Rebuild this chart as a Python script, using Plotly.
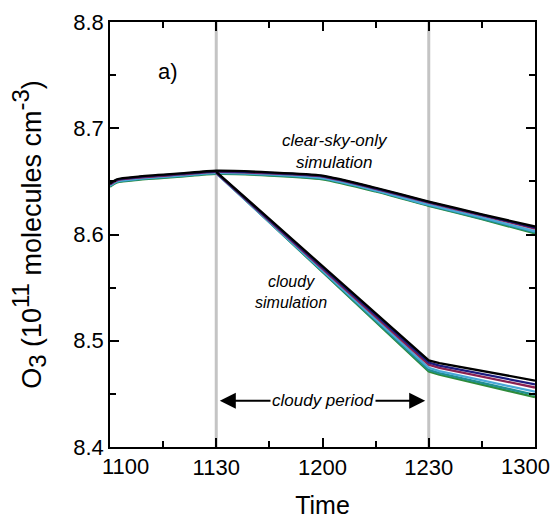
import plotly.graph_objects as go

# Time axis in minutes after 11:00, labelled as HHMM
clear_minutes = [0, 2, 8, 20, 30, 45, 60, 75, 90, 105, 120]
cloudy_minutes = [30, 90, 93, 120]
tick_minutes = [0, 30, 60, 90, 120]
tick_labels = ["1100", "1130", "1200", "1230", "1300"]

run_colors = ["#2e8b3a", "#1f8f8f", "#4aa8d8", "#8b2252", "#1c1c80", "#000000"]

# O3 (1e11 molecules cm^-3) for each model run, clear-sky-only simulation
clear_sky = [
    [8.6450, 8.6490, 8.6515, 8.6545, 8.6570, 8.6555, 8.6520, 8.6405, 8.6270, 8.6145, 8.6010],
    [8.6455, 8.6495, 8.6520, 8.6550, 8.6575, 8.6560, 8.6525, 8.6410, 8.6275, 8.6150, 8.6020],
    [8.6460, 8.6500, 8.6525, 8.6555, 8.6580, 8.6565, 8.6530, 8.6415, 8.6280, 8.6160, 8.6030],
    [8.6470, 8.6510, 8.6535, 8.6565, 8.6590, 8.6575, 8.6545, 8.6430, 8.6300, 8.6180, 8.6055],
    [8.6475, 8.6515, 8.6540, 8.6570, 8.6595, 8.6580, 8.6550, 8.6435, 8.6305, 8.6185, 8.6065],
    [8.6480, 8.6520, 8.6545, 8.6575, 8.6600, 8.6585, 8.6555, 8.6440, 8.6310, 8.6190, 8.6075],
]

# O3 for each model run, cloudy simulation (cloud from 1130 to 1230)
cloudy = [
    [8.6585, 8.4710, 8.4680, 8.4470],
    [8.6580, 8.4725, 8.4695, 8.4490],
    [8.6575, 8.4745, 8.4715, 8.4520],
    [8.6580, 8.4775, 8.4745, 8.4560],
    [8.6585, 8.4795, 8.4765, 8.4590],
    [8.6590, 8.4815, 8.4790, 8.4625],
]

fig = go.Figure()

for color, values in zip(run_colors, clear_sky):
    fig.add_trace(go.Scatter(x=clear_minutes, y=values, mode="lines",
                             line=dict(color=color, width=2.3, shape="spline", smoothing=0.6),
                             showlegend=False, hoverinfo="skip"))
for color, values in zip(run_colors, cloudy):
    fig.add_trace(go.Scatter(x=cloudy_minutes, y=values, mode="lines",
                             line=dict(color=color, width=2.3),
                             showlegend=False, hoverinfo="skip"))

# start and end of the cloudy period
for t in (30, 90):
    fig.add_shape(type="line", xref="x", yref="paper", x0=t, x1=t, y0=0, y1=1,
                  line=dict(color="#c4c4c4", width=3), layer="below")

font_family = "Liberation Sans, Arial, sans-serif"

fig.add_annotation(x=16.4, y=8.753, text="a)", showarrow=False,
                   font=dict(size=22, color="black", family=font_family))
fig.add_annotation(x=63.5, y=8.678, text="<i>clear-sky-only<br>simulation</i>", showarrow=False,
                   font=dict(size=17, color="black", family=font_family))
fig.add_annotation(x=51, y=8.546, text="<i>cloudy<br>simulation</i>", showarrow=False,
                   font=dict(size=16, color="black", family=font_family))

# double-headed arrow marking the cloudy period
period_y = 8.4435
for tip in (31.0, 89.0):
    fig.add_annotation(x=tip, y=period_y, ax=60, ay=period_y, axref="x", ayref="y",
                       xref="x", yref="y", text="", showarrow=True,
                       arrowhead=2, arrowsize=1.6, arrowwidth=2, arrowcolor="black")
fig.add_annotation(x=60, y=period_y, text="<i>cloudy period</i>", showarrow=False,
                   bgcolor="white", borderpad=1,
                   font=dict(size=17, color="black", family=font_family))

tick_font = dict(size=22, color="black", family=font_family)

axis_common = dict(showline=True, linecolor="black", linewidth=1.5, mirror="ticks",
                   ticks="inside", ticklen=9, tickwidth=1.5, tickcolor="black",
                   showgrid=False, zeroline=False, ticklabeloverflow="allow",
                   automargin=False, tickfont=tick_font)

# the two end labels are drawn separately, nudged inward off the corners
x_ticktext = [""] + tick_labels[1:-1] + [""]
for t, label, shift in ((tick_minutes[0], tick_labels[0], 15), (tick_minutes[-1], tick_labels[-1], -10)):
    fig.add_annotation(x=t, y=0, xref="x", yref="paper", text=label, showarrow=False,
                       xanchor="center", yanchor="top", xshift=shift, yshift=-6,
                       borderpad=0, font=tick_font)

y_title = ("O<sub><span style='font-size:24px'>3</span></sub> (10"
           "<sup><span style='font-size:24px'>11</span></sup> molecules cm"
           "<sup><span style='font-size:24px'>-3</span></sup>)")

fig.update_xaxes(range=[0, 120], tickvals=tick_minutes, ticktext=x_ticktext,
                 minor=dict(ticks="inside", ticklen=6, tickwidth=1.5, tickcolor="black", dtick=15, tick0=0),
                 title=dict(text="Time", font=dict(size=25, color="black", family=font_family), standoff=18),
                 **axis_common)
fig.update_yaxes(range=[8.4, 8.8], tickvals=[8.4, 8.5, 8.6, 8.7, 8.8], tickformat=".1f",
                 minor=dict(ticks="inside", ticklen=6, tickwidth=1.5, tickcolor="black", dtick=0.05, tick0=8.4),
                 title=dict(text=y_title, font=dict(size=27, color="black", family=font_family), standoff=24),
                 **axis_common)

fig.update_layout(width=559, height=519, margin=dict(l=110, r=24, t=22, b=72),
                  plot_bgcolor="white", paper_bgcolor="white")

fig.write_html("out.html")
